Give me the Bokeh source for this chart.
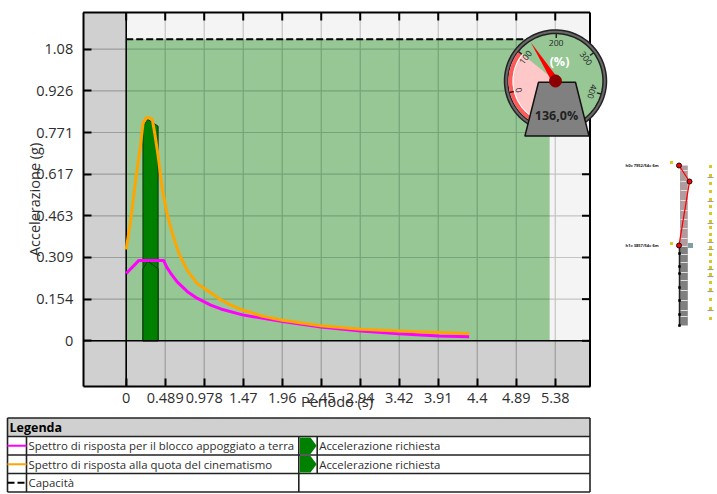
import numpy as np
from bokeh.plotting import figure
from bokeh.models import Range1d, LinearAxis, FixedTicker
from bokeh.core.properties import value
from bokeh.embed import file_html
from bokeh.resources import INLINE

# ---------- data ----------
x_ticks = [0, 0.489, 0.978, 1.47, 1.96, 2.45, 2.94, 3.42, 3.91, 4.4, 4.89, 5.38]
x_tick_pos = [0, 0.4891, 0.9782, 1.4673, 1.9564, 2.4455, 2.9345, 3.4236, 3.9127, 4.4018, 4.8909, 5.38]
y_tick_labels = ["0", "0.154", "0.309", "0.463", "0.617", "0.771", "0.926", "1.08"]
y_tick_pos = [0, 0.1543, 0.3086, 0.4629, 0.6171, 0.7714, 0.9257, 1.08]

magenta_t = [0, 0.157, 0.47, 0.51, 0.558, 0.642, 0.768, 0.893, 1.06, 1.186, 1.458, 1.96, 2.44, 2.94, 3.42, 3.92, 4.30]
magenta_a = [0.249, 0.297, 0.297, 0.272, 0.250, 0.217, 0.182, 0.157, 0.132, 0.118, 0.096, 0.071, 0.051, 0.036, 0.026, 0.0175, 0.015]
orange_t = [0, 0.056, 0.119, 0.182, 0.211, 0.245, 0.286, 0.328, 0.358, 0.399, 0.454, 0.517, 0.580, 0.663, 0.768, 0.893, 1.06, 1.186, 1.30, 1.458, 1.70, 1.96, 2.44, 2.94, 3.42, 3.92, 4.30]
orange_a = [0.338, 0.446, 0.595, 0.731, 0.805, 0.824, 0.827, 0.820, 0.768, 0.688, 0.558, 0.465, 0.397, 0.322, 0.260, 0.211, 0.178, 0.152, 0.134, 0.114, 0.092, 0.076, 0.056, 0.043, 0.036, 0.031, 0.027]
capacity = 1.117
capacity_t_end = 5.31
bar_t = [0.21, 0.27, 0.40]
bar_high = [0.795, 0.82, 0.795]
bar_low = [0.267, 0.295, 0.267]

gauge_reading = 136.0
gauge_ticks = [0, 100, 200, 300, 400]

legend_rows = ["Spettro di risposta per il blocco appoggiato a terra",
               "Spettro di risposta alla quota del cinematismo", "Capacità"]
legend_right = ["Accelerazione richiesta", "Accelerazione richiesta"]

sketch_marker_y = [166, 175, 183, 191, 199, 206, 213, 221, 227, 234, 240, 247, 254, 261, 267, 274, 282, 289, 299, 308, 318]
sketch_base_y = [175, 199, 221, 240, 247, 267, 274, 289, 308]
sketch_stripe_y = [170, 181, 190, 200, 210, 219, 228, 238, 246, 254, 262, 272, 280, 290, 300, 310, 316]
sketch_dot_y = [253, 266, 273, 287, 300, 314, 325]
sketch_node_x = [678.5, 689, 678.5]
sketch_node_y = [165, 181, 245]

# ---------- layout ----------
L, T, W, H = 2, 2, 715, 492          # canvas position on the page
X0, XS = 125.7, 79.75                # pixel of T=0 and pixels per second
Y0, YS = 340.3, 270.0                # pixel of a=0 and pixels per g
FL, FR, FT, FB = 82.7, 589.5, 12, 386  # outer panel
GRID_GREEN, GRID_GREY, GRID_LIGHT = "#74A477", "#9E9E9E", "#C4C4C4"
TEXT = "#2E2E2E"


def dx(px): return (px - X0) / XS
def dy(py): return (Y0 - py) / YS


FONT = value("Open Sans")
p = figure(width=W, height=H, output_backend="svg", toolbar_location=None,
           x_range=Range1d(dx(L), dx(L + W)), y_range=Range1d(dy(T + H), dy(T)),
           x_axis_type=None, y_axis_type=None, min_border=0, outline_line_color=None,
           background_fill_color="white", border_fill_color="white",
           margin=(2, 0, 0, 2))
p.grid.visible = False
p.extra_x_ranges = {"px": Range1d(L, L + W)}
p.extra_y_ranges = {"px": Range1d(T + H, T)}
PX = dict(x_range_name="px", y_range_name="px")

# panels
p.quad(left=dx(FL), right=dx(FR), bottom=dy(FB), top=dy(FT), fill_color="#D0D0D0", line_color=None)
p.quad(left=0, right=dx(FR), bottom=0, top=dy(FT), fill_color="#F4F4F4", line_color=None)
p.quad(left=0, right=capacity_t_end, bottom=0, top=capacity, fill_color="#97C795", line_color=None)


# grid: each line takes the shade of the panel that it crosses
def vgrid(y0, y1, colour, ticks):
    p.segment(x0=ticks, x1=ticks, y0=[y0] * len(ticks), y1=[y1] * len(ticks), line_color=colour, line_width=1.2)


def hgrid(x0, x1, colour, ticks):
    p.segment(x0=[x0] * len(ticks), x1=[x1] * len(ticks), y0=ticks, y1=ticks, line_color=colour, line_width=1.2)


inner_x = [t for t in x_tick_pos if 0 < t < capacity_t_end]
outer_x = [t for t in x_tick_pos if t > capacity_t_end]
inner_y = [v for v in y_tick_pos if 0 < v < capacity]
vgrid(dy(FB), 0, GRID_GREY, x_tick_pos)
vgrid(0, capacity, GRID_GREEN, inner_x)
vgrid(capacity, dy(FT), GRID_LIGHT, inner_x)
vgrid(0, dy(FT), GRID_LIGHT, outer_x)
hgrid(dx(FL), 0, GRID_GREY, y_tick_pos)
hgrid(0, capacity_t_end, GRID_GREEN, inner_y)
hgrid(capacity_t_end, dx(FR), GRID_LIGHT, inner_y)

# demand bars
bar_xs = [bar_t[0]] + bar_t + [bar_t[2]]
p.patch(bar_xs, [0] + bar_high + [0], fill_color="#008000", line_color="#103010", line_width=1)
p.patch(bar_xs, [0] + bar_low + [0], fill_color="#008000", line_color="#103010", line_width=1)

# zero lines
p.line([0, 0], [dy(FB), dy(FT)], line_color="black", line_width=1.6)
p.line([dx(FL), dx(FR)], [0, 0], line_color="black", line_width=1.6)

# curves
p.line(magenta_t, magenta_a, line_color="#FF00FF", line_width=3, line_join="round")
p.line(orange_t, orange_a, line_color="#FFA500", line_width=3, line_join="round")
p.line([0, capacity_t_end], [capacity, capacity], line_color="black", line_width=2, line_dash="7 3")

# axes
tick_style = dict(major_tick_line_color="black", major_tick_line_width=2, minor_tick_line_color=None,
                  axis_line_color="black", axis_line_width=2)
label_style = dict(major_label_text_font="Open Sans", major_label_text_font_size="14.5px",
                   major_label_text_color=TEXT)

bottom = LinearAxis(ticker=FixedTicker(ticks=x_tick_pos), fixed_location=dy(FB), bounds=(dx(FL), dx(FR)),
                    major_tick_in=8, major_tick_out=0, major_label_standoff=6,
                    major_label_overrides={t: str(l) for t, l in zip(x_tick_pos, x_ticks)},
                    axis_label="Periodo (s)", axis_label_text_font="Open Sans", axis_label_text_font_size="14.5px",
                    axis_label_text_font_style="normal", axis_label_text_color=TEXT, axis_label_standoff=-14,
                    **tick_style, **label_style)
left = LinearAxis(ticker=FixedTicker(ticks=y_tick_pos), fixed_location=dx(FL), bounds=(dy(FB), dy(FT)),
                  major_tick_in=8, major_tick_out=0, major_label_standoff=10,
                  major_label_overrides=dict(zip(y_tick_pos, y_tick_labels)),
                  axis_label="Accelerazione (g)", axis_label_text_font="Open Sans", axis_label_text_font_size="14.5px",
                  axis_label_text_font_style="normal", axis_label_text_color=TEXT, axis_label_standoff=-10,
                  **tick_style, **label_style)
p.add_layout(bottom, "below")
p.add_layout(left, "left")

# top and right edges with their ticks
p.line([dx(FL), dx(FR)], [dy(FT), dy(FT)], line_color="black", line_width=2)
p.line([dx(FR), dx(FR)], [dy(FT), dy(FB)], line_color="black", line_width=2)
p.segment(x0=x_tick_pos, x1=x_tick_pos, y0=[dy(FT)] * len(x_tick_pos), y1=[dy(FT + 8)] * len(x_tick_pos),
          line_color="black", line_width=2)
p.segment(x0=[dx(FR)] * len(y_tick_pos), x1=[dx(FR - 8)] * len(y_tick_pos), y0=y_tick_pos, y1=y_tick_pos,
          line_color="black", line_width=2)


# ---------- gauge ----------
CX, CY = 555, 80.5


def ang(v): return np.radians(194 - 0.525 * v)


def ring(r1, r2, a1, a2, n=80):
    a = np.linspace(a1, a2, n)
    xs = np.r_[CX + r1 * np.cos(a), CX + r2 * np.cos(a[::-1])]
    ys = np.r_[CY - r1 * np.sin(a), CY - r2 * np.sin(a[::-1])]
    return xs, ys


OV = dict(level="overlay", **PX)
a = np.linspace(0, 2 * np.pi, 120)
p.patch(CX + 51 * np.cos(a), CY + 51 * np.sin(a), fill_color="#6A6A6A", line_color="#222222", line_width=1.5, **OV)
p.patch(CX + 47.5 * np.cos(a), CY + 47.5 * np.sin(a), fill_color="#97C795", line_color="#222222", line_width=1.5, **OV)
a1, a2 = np.radians(141), np.radians(240)
xs, ys = ring(0, 47, a1, a2)
p.patch(xs, ys, fill_color="#FFC8C8", line_color=None, **OV)
xs, ys = ring(43, 47, a1, a2)
p.patch(xs, ys, fill_color="#FF5A5A", line_color=None, **OV)
xs, ys = ring(42, 43, a1, a2)
p.patch(xs, ys, fill_color="white", line_color=None, **OV)
for v in gauge_ticks:
    t = ang(v)
    p.line([CX + 43 * np.cos(t), CX + 47.5 * np.cos(t)], [CY - 43 * np.sin(t), CY - 47.5 * np.sin(t)],
           line_color="#222222", line_width=1.5, **OV)
    p.text([CX + 38.5 * np.cos(t)], [CY - 38.5 * np.sin(t)], text=[str(v)], angle=t - np.pi / 2,
           text_font=FONT, text_font_size=value("8.5px"), text_color="#222222",
           text_align="center", text_baseline="middle", **OV)
p.text([559], [61], text=["(%)"], text_font=FONT, text_font_size=value("12.5px"), text_font_style="bold",
       text_color="white", text_align="center", text_baseline="middle", **OV)
t = ang(gauge_reading)
n = t + np.pi / 2
p.patch([CX + 46 * np.cos(t), CX + 3.5 * np.cos(n), CX - 3.5 * np.cos(n)],
        [CY - 46 * np.sin(t), CY - 3.5 * np.sin(n), CY + 3.5 * np.sin(n)],
        fill_color="#FF0000", line_color=None, **OV)
p.patch([538, 575, 588.5, 524.4], [81.7, 81.7, 135.6, 135.6], fill_color="#808080", line_color="#111111",
        line_width=1.5, **OV)
p.patch(CX + 6 * np.cos(a), CY + 6 * np.sin(a), fill_color="#8B0000", line_color="#8B0000", **OV)
p.text([556], [114.5], text=[f"{gauge_reading:.1f}%".replace(".", ",")], text_font=FONT,
       text_font_size=value("12.5px"), text_font_style="bold", text_color="#222222",
       text_align="center", text_baseline="middle", **OV)

# ---------- small sketch on the right ----------
p.quad(left=679.5, right=687.3, top=165, bottom=245, fill_color="#B09C9E", line_color=None, **PX)
p.quad(left=679.5, right=687.3, top=245, bottom=325, fill_color="#808080", line_color=None, **PX)
p.segment(x0=[680] * len(sketch_stripe_y), x1=[687.3] * len(sketch_stripe_y), y0=sketch_stripe_y, y1=sketch_stripe_y,
          line_color="#E0E0E0", line_width=1, **PX)
p.line([679, 679], [245, 326], line_color="#222222", line_width=1.5, **PX)
p.scatter([679] * len(sketch_dot_y), sketch_dot_y, marker="square", size=2.5, fill_color="black", line_color=None, **PX)
p.line(sketch_node_x, sketch_node_y, line_color="#FF0000", line_width=1.3, **PX)
p.scatter(sketch_node_x, sketch_node_y, size=5, fill_color="#FF0000", line_color="#111111", line_width=1, **PX)
p.text([625, 625], [165, 245], text=["h0= 7952/54= 6m", "h1= 3857/54= 6m"], text_font=FONT,
       text_font_size=value("4px"), text_font_style="bold", text_color="#111111", text_baseline="middle", **PX)
p.segment(x0=[707] * len(sketch_base_y), x1=[713] * len(sketch_base_y), y0=[v + 2 for v in sketch_base_y],
          y1=[v + 2 for v in sketch_base_y], line_color="#A0A0A0", line_width=1.2, **PX)
p.scatter([710] * len(sketch_marker_y), sketch_marker_y, marker="square", size=3, fill_color="#D8C820",
          line_color=None, **PX)
p.scatter([671, 671], [162, 243], marker="square", size=3, fill_color="#D8C820", line_color=None, **PX)
p.scatter([690], [245], marker="square", size=5, fill_color="#7FA0A0", line_color=None, **PX)

# ---------- legend table ----------
TL, TR = 7, 589.5
RY = [417.5, 436, 454.5, 473, 491.5]
C1, C2, C3 = 26, 298.3, 316.7
p.quad(left=TL, right=TR, top=RY[0], bottom=RY[4], fill_color="white", line_color=None, **PX)
p.quad(left=TL, right=TR, top=RY[0], bottom=RY[1], fill_color="#D0D0D0", line_color=None, **PX)
for y in RY:
    p.line([TL, TR], [y, y], line_color="#222222", line_width=1.6, **PX)
for x, y0, y1 in [(TL, RY[0], RY[4]), (TR, RY[0], RY[4]), (C1, RY[1], RY[4]), (C2, RY[1], RY[4]), (C3, RY[1], RY[3])]:
    p.line([x, x], [y0, y1], line_color="#222222", line_width=1.6, **PX)
mid = [(RY[i] + RY[i + 1]) / 2 for i in range(4)]
p.text([9], [mid[0]], text=["Legenda"], text_font=FONT, text_font_size=value("12.5px"), text_font_style="bold",
       text_color="black", text_baseline="middle", **PX)
p.line([TL, C1], [mid[1], mid[1]], line_color="#FF00FF", line_width=2, **PX)
p.line([TL, C1], [mid[2], mid[2]], line_color="#FFA500", line_width=2, **PX)
p.line([TL, C1], [mid[3], mid[3]], line_color="black", line_width=2, line_dash="7 3", **PX)
p.text([28] * 3, mid[1:], text=legend_rows, text_font=FONT, text_font_size=value("11.4px"),
       text_color=TEXT, text_baseline="middle", **PX)
p.text([C3 + 2] * 2, mid[1:3], text=legend_right, text_font=FONT, text_font_size=value("11.4px"),
       text_color=TEXT, text_baseline="middle", **PX)
for i in (1, 2):
    p.patch([C2 + 1, 310, C3 - 0.5, 310, C2 + 1],
            [RY[i] + 1, RY[i] + 1, mid[i], RY[i + 1] - 1, RY[i + 1] - 1],
            fill_color="#008000", line_color=None, **PX)

open("out.html", "w").write(file_html(p, INLINE))
